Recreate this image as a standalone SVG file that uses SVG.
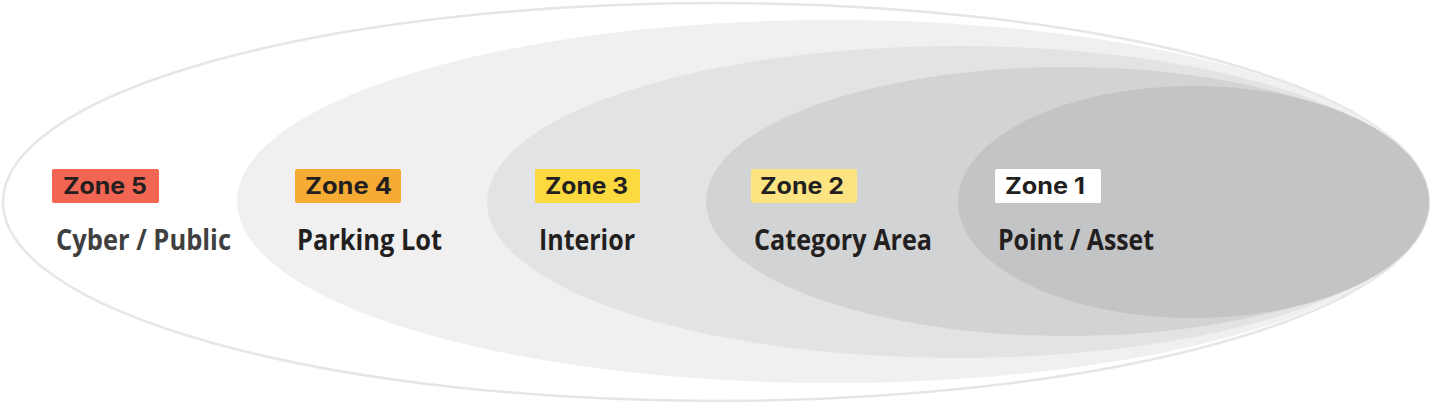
<svg xmlns="http://www.w3.org/2000/svg" width="1432" height="404" viewBox="0 0 1432 404">
<style>
.badge-text{font-family:Inter,"Open Sans","Liberation Sans",sans-serif;font-weight:700;font-size:23px;fill:#231f20}
.label{font-family:"Open Sans","Noto Sans","Liberation Sans",sans-serif;font-weight:700;font-size:28.5px;fill:#231f20}
</style>
<rect width="1432" height="404" fill="#ffffff"/>
<g id="zone5">
<ellipse cx="716" cy="202" rx="713" ry="199" fill="#ffffff" stroke="#e6e6e6" stroke-width="2.5"/>
</g>
<g id="zone4">
<ellipse cx="833" cy="201.5" rx="596" ry="181.5" fill="#f0f0f0"/>
</g>
<g id="zone3">
<ellipse cx="958" cy="202" rx="471" ry="156" fill="#e2e3e5"/>
</g>
<g id="zone2">
<ellipse cx="1067.5" cy="201.5" rx="361.5" ry="134.5" fill="#d2d3d5"/>
</g>
<g id="zone1">
<ellipse cx="1193.5" cy="202" rx="235.5" ry="116" fill="#c3c4c6"/>
</g>
<g id="label5">
<rect x="52" y="169" width="107" height="34" rx="2" fill="#f26552"/>
<text class="badge-text" x="63" y="193.5" textLength="84" lengthAdjust="spacingAndGlyphs">Zone 5</text>
<text class="label" x="56" y="250" style="fill:#404040" textLength="175" lengthAdjust="spacingAndGlyphs">Cyber / Public</text>
</g>
<g id="label4">
<rect x="295" y="169" width="106" height="34" rx="2" fill="#f6ab35"/>
<text class="badge-text" x="305" y="193.5" textLength="87" lengthAdjust="spacingAndGlyphs">Zone 4</text>
<text class="label" x="297" y="250" textLength="145" lengthAdjust="spacingAndGlyphs">Parking Lot</text>
</g>
<g id="label3">
<rect x="535" y="169" width="105" height="34" rx="2" fill="#fcd93f"/>
<text class="badge-text" x="545" y="193.5" textLength="83" lengthAdjust="spacingAndGlyphs">Zone 3</text>
<text class="label" x="539" y="250" textLength="96" lengthAdjust="spacingAndGlyphs">Interior</text>
</g>
<g id="label2">
<rect x="751" y="169" width="106" height="34" rx="2" fill="#fde483"/>
<text class="badge-text" x="760" y="193.5" textLength="84" lengthAdjust="spacingAndGlyphs">Zone 2</text>
<text class="label" x="754" y="250" textLength="178" lengthAdjust="spacingAndGlyphs">Category Area</text>
</g>
<g id="label1">
<rect x="995" y="169" width="106" height="34" rx="2" fill="#ffffff"/>
<text class="badge-text" x="1005" y="193.5" textLength="80" lengthAdjust="spacingAndGlyphs">Zone 1</text>
<text class="label" x="998" y="250" textLength="156" lengthAdjust="spacingAndGlyphs">Point / Asset</text>
</g>
<g id="connectors"></g>
</svg>
